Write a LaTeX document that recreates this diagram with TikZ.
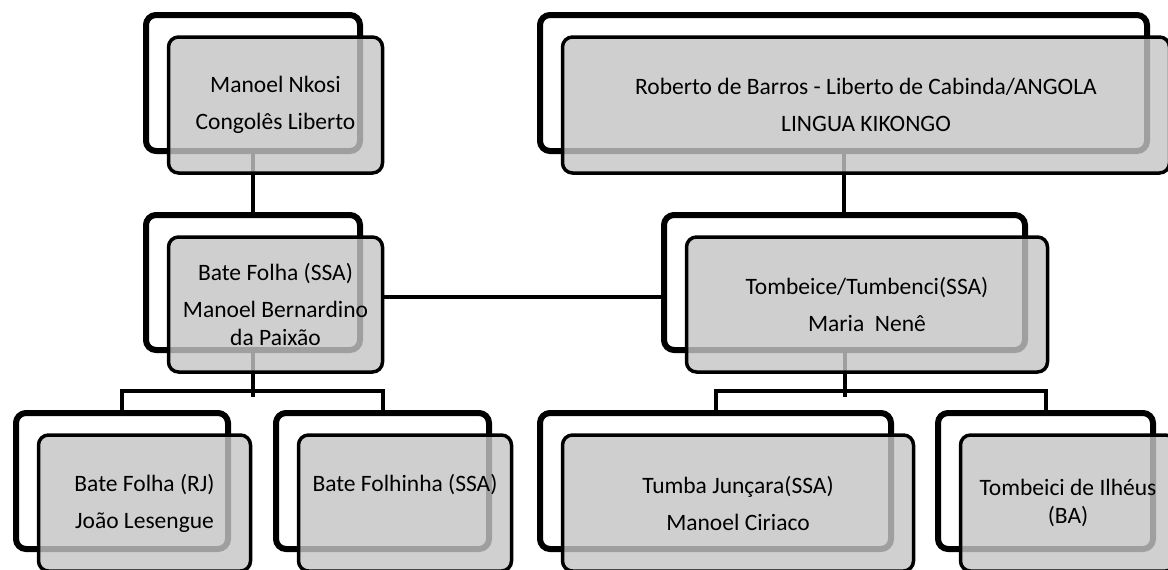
\documentclass[tikz,border=0pt]{standalone}
\usepackage{fontspec}
\setmainfont{Carlito}
\usetikzlibrary{calc}
\definecolor{frontgray}{RGB}{197,197,197}
\tikzset{
  backbox/.style={rectangle, draw=black, line width=6pt, fill=white, rounded corners=10pt, inner sep=0pt},
  frontbox/.style={rectangle, draw=black, line width=3.5pt, fill=frontgray, fill opacity=0.81, draw opacity=1, text opacity=1, rounded corners=10pt, inner sep=0pt, align=center, font=\fontsize{23.5}{28}\selectfont},
  link/.style={draw=black, line width=4pt},
}
% back box from outer pixel bounds
\newcommand\pairback[5]{%
  \node[backbox, minimum width={(#4-#2-6)*1pt}, minimum height={(#5-#3-6)*1pt}] (#1b) at ({(#2+#4)/2},{-(#3+#5)/2}) {};}
\newcommand\pairfront[6]{%
  \node[frontbox, minimum width={(#4-#2-6)*1pt}, minimum height={(#5-#3-6)*1pt}] (#1f) at ({(#2+#4)/2+22.5},{-(#3+#5)/2-22}) {#6};}
\begin{document}
\begin{tikzpicture}[x=1pt,y=1pt]
\useasboundingbox (0,0) rectangle (1168,-570);
% back boxes
\pairback{ma}{143}{12}{363}{154}
\pairback{ro}{537}{12}{1150}{154}
\pairback{bf}{143}{212}{363}{353}
\pairback{tb}{661}{212}{1028}{353}
\pairback{rj}{13}{410}{231}{552}
\pairback{fh}{273}{410}{492}{552}
\pairback{tj}{537}{410}{894}{552}
\pairback{ti}{935}{410}{1156}{552}
% connectors (under the front boxes)
\draw[link] (mab.south) -- (bfb.north);
\draw[link] (rob.south) -- (rob.south |- tbb.north);
\draw[link] (bfb.south) -- ($(bfb.south)+(0,-44)$);
\draw[link] (rjb.north) -- ++(0,19) -| (fhb.north);
\draw[link] (tbb.south) -- ($(tbb.south)+(0,-44)$);
\draw[link] (tjb.north) -- ++(0,19) -| (tib.north);
% front boxes
\pairfront{ma}{143}{12}{363}{154}{Manoel Nkosi\\[9pt]Congolês Liberto}
\pairfront{ro}{537}{12}{1150}{154}{Roberto de Barros - Liberto de Cabinda/ANGOLA\\[9pt]LINGUA KIKONGO}
\pairfront{bf}{143}{212}{363}{353}{Bate Folha (SSA)\\[9pt]Manoel Bernardino\\da Paixão}
\pairfront{tb}{661}{212}{1028}{353}{Tombeice/Tumbenci(SSA)\\[9pt]Maria\ \ Nenê}
\pairfront{rj}{13}{410}{231}{552}{Bate Folha (RJ)\\[9pt]João Lesengue}
\pairfront{fh}{273}{410}{492}{552}{Bate Folhinha (SSA)\\[9pt]\phantom{g}}
\pairfront{tj}{537}{410}{894}{552}{Tumba Junçara(SSA)\\[9pt]Manoel Ciriaco}
\pairfront{ti}{935}{410}{1156}{552}{Tombeici de Ilhéus\\(BA)}
% link between the two houses
\coordinate (hl) at ($(bff.east)+(0,8)$);
\draw[link] (hl) -- (hl -| tbb.west);
\end{tikzpicture}
\end{document}
